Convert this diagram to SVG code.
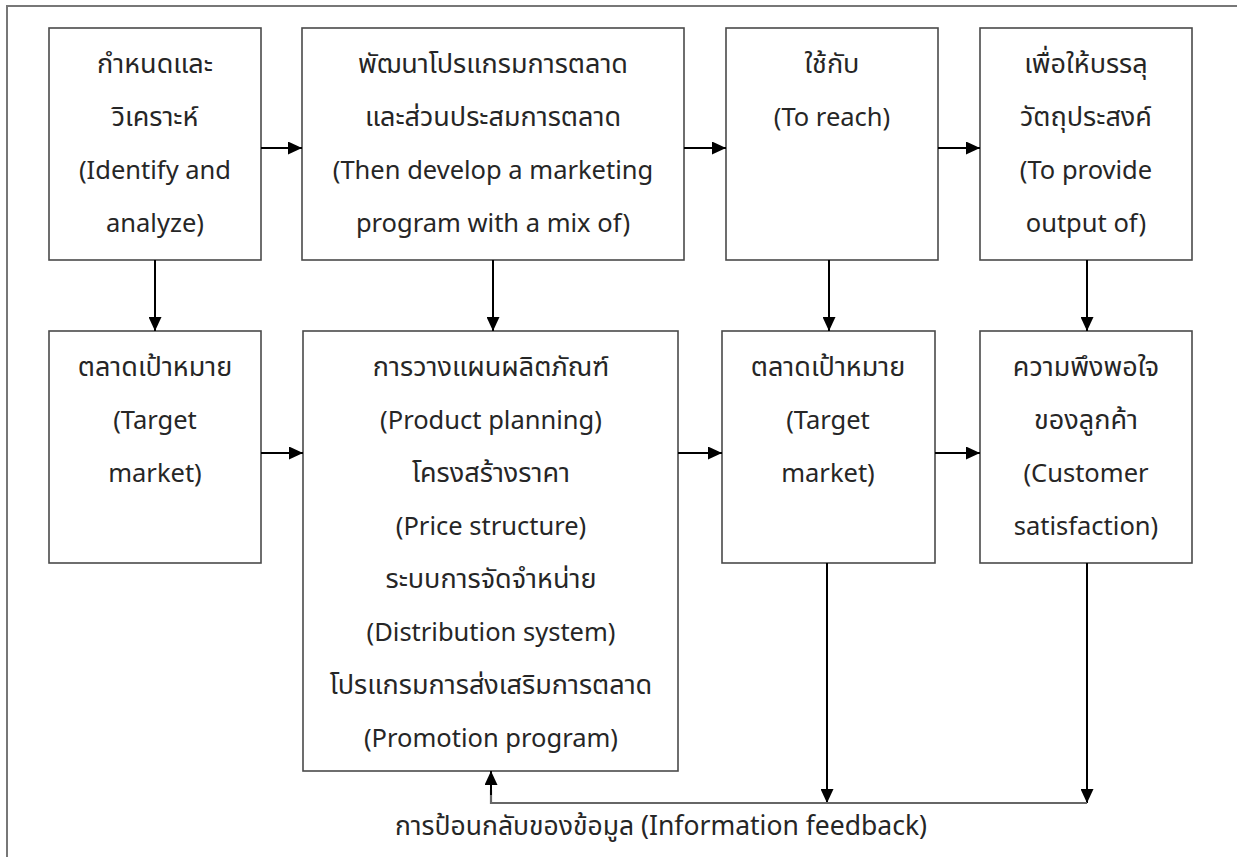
<svg xmlns="http://www.w3.org/2000/svg" width="1237" height="857" viewBox="0 0 1237 857">
<style>
.box{fill:#fff;stroke:#4a4a4a;stroke-width:1.6}
.t{font-family:"Noto Sans","Noto Sans Thai","DejaVu Sans",sans-serif;font-size:25.5px;fill:#262626;text-anchor:middle}
.th{font-size:27px}
.c{stroke:#000;stroke-width:2;fill:none}
.fb{stroke:#666;stroke-width:2.2;fill:none}
.frame{stroke:#777;stroke-width:2;fill:none}
</style>
<defs>
<marker id="ah" viewBox="0 0 14 13" refX="14" refY="6.5" markerWidth="14" markerHeight="13" markerUnits="userSpaceOnUse" orient="auto">
<path d="M0,0 L14,6.5 L0,13 Z" fill="#000"/>
</marker>
</defs>
<rect width="1237" height="857" fill="#fff"/>
<path class="frame" d="M7,857 L7,6 L1237,6"/>

<g id="n1"><rect class="box" x="49" y="28" width="212" height="232"/>
<text class="t th" x="155" y="73">กำหนดและ</text><text class="t th" x="155" y="126">วิเคราะห์</text><text class="t" x="155" y="179">(Identify and</text><text class="t" x="155" y="232">analyze)</text></g>

<g id="n2"><rect class="box" x="302" y="28" width="382" height="232"/>
<text class="t th" x="493" y="73">พัฒนาโปรแกรมการตลาด</text><text class="t th" x="493" y="126">และส่วนประสมการตลาด</text><text class="t" x="493" y="179">(Then develop a marketing</text><text class="t" x="493" y="232">program with a mix of)</text></g>

<g id="n3"><rect class="box" x="726" y="28" width="212" height="232"/>
<text class="t th" x="832" y="73">ใช้กับ</text><text class="t" x="832" y="126">(To reach)</text></g>

<g id="n4"><rect class="box" x="980" y="28" width="212" height="232"/>
<text class="t th" x="1086" y="73">เพื่อให้บรรลุ</text><text class="t th" x="1086" y="126">วัตถุประสงค์</text><text class="t" x="1086" y="179">(To provide</text><text class="t" x="1086" y="232">output of)</text></g>

<g id="n5"><rect class="box" x="49" y="331" width="212" height="232"/>
<text class="t th" x="155" y="376">ตลาดเป้าหมาย</text><text class="t" x="155" y="429">(Target</text><text class="t" x="155" y="482">market)</text></g>

<g id="n6"><rect class="box" x="303" y="331" width="375" height="440"/>
<text class="t th" x="491" y="376">การวางแผนผลิตภัณฑ์</text><text class="t" x="491" y="429">(Product planning)</text><text class="t th" x="491" y="482">โครงสร้างราคา</text><text class="t" x="491" y="535">(Price structure)</text><text class="t th" x="491" y="588">ระบบการจัดจำหน่าย</text><text class="t" x="491" y="641">(Distribution system)</text><text class="t th" x="491" y="694">โปรแกรมการส่งเสริมการตลาด</text><text class="t" x="491" y="747">(Promotion program)</text></g>

<g id="n7"><rect class="box" x="722" y="331" width="213" height="232"/>
<text class="t th" x="828" y="376">ตลาดเป้าหมาย</text><text class="t" x="828" y="429">(Target</text><text class="t" x="828" y="482">market)</text></g>

<g id="n8"><rect class="box" x="980" y="331" width="212" height="232"/>
<text class="t th" x="1086" y="376">ความพึงพอใจ</text><text class="t th" x="1086" y="429">ของลูกค้า</text><text class="t" x="1086" y="482">(Customer</text><text class="t" x="1086" y="535">satisfaction)</text></g>

<g id="connectors">
<line class="c" x1="261" y1="148" x2="302" y2="148" marker-end="url(#ah)"/>
<line class="c" x1="684" y1="148" x2="726" y2="148" marker-end="url(#ah)"/>
<line class="c" x1="938" y1="148" x2="980" y2="148" marker-end="url(#ah)"/>
<line class="c" x1="155" y1="260" x2="155" y2="331" marker-end="url(#ah)"/>
<line class="c" x1="493" y1="260" x2="493" y2="331" marker-end="url(#ah)"/>
<line class="c" x1="829" y1="260" x2="829" y2="331" marker-end="url(#ah)"/>
<line class="c" x1="1087" y1="260" x2="1087" y2="331" marker-end="url(#ah)"/>
<line class="c" x1="261" y1="453" x2="303" y2="453" marker-end="url(#ah)"/>
<line class="c" x1="678" y1="453" x2="722" y2="453" marker-end="url(#ah)"/>
<line class="c" x1="935" y1="453" x2="980" y2="453" marker-end="url(#ah)"/>
<line class="c" x1="827" y1="563" x2="827" y2="803" marker-end="url(#ah)"/>
<line class="c" x1="1087" y1="563" x2="1087" y2="803" marker-end="url(#ah)"/>
<path class="fb" d="M1087,803 L491,803 L491,790"/>
<line class="c" x1="491" y1="795" x2="491" y2="771" marker-end="url(#ah)"/>
<text class="t" x="661" y="835" style="font-size:26.5px">การป้อนกลับของข้อมูล (Information feedback)</text>
</g>
</svg>
